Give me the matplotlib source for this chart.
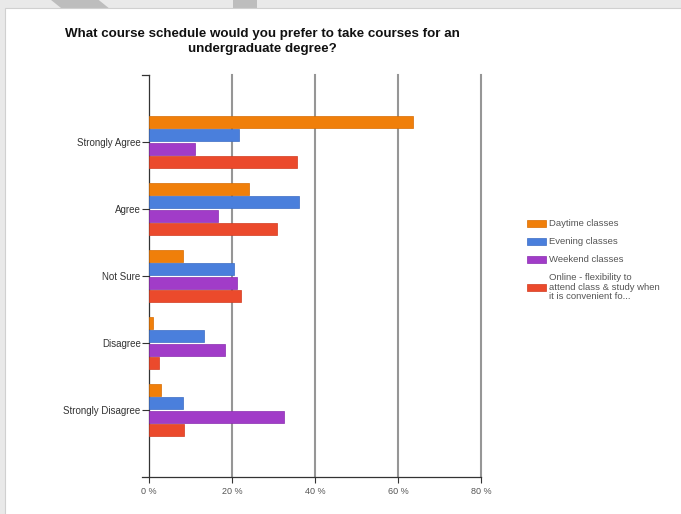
import numpy as np
import matplotlib.pyplot as plt
from matplotlib.patches import Rectangle, Polygon

# Survey responses, percent of respondents
answers = ["Strongly Agree", "Agree", "Not Sure", "Disagree", "Strongly Disagree"]
series = ["Daytime classes", "Evening classes", "Weekend classes",
          "Online - flexibility to\nattend class & study when\nit is convenient fo..."]
daytime = [63.6, 24.2, 8.1, 0.9, 3.0]
evening = [21.7, 36.2, 20.5, 13.3, 8.3]
weekend = [11.2, 16.7, 21.1, 18.2, 32.5]
online = [35.7, 30.8, 22.1, 2.4, 8.5]
xticks = [0, 20, 40, 60, 80]

colors = ["#f07f0a", "#4a7fdc", "#a13cc8", "#eb4a2c"]
edges = ["#d86c00", "#3a6cc4", "#8a2cb0", "#d23a1f"]

plt.rcParams['font.family'] = ['Liberation Sans', 'DejaVu Sans']

fig = plt.figure(figsize=(6.81, 5.14), dpi=100)

# page background: grey strip on top, white card below
fig.patches.append(Rectangle((0, 0), 1, 1, transform=fig.transFigure,
                             facecolor="#e9e9e9", edgecolor="none", zorder=-3))
fig.patches.append(Polygon([(0.075, 1), (0.145, 1), (0.16, 0.984), (0.09, 0.984)],
                           closed=True, transform=fig.transFigure,
                           facecolor="#bdbdbd", edgecolor="none", zorder=-2))
fig.patches.append(Polygon([(0.342, 1), (0.378, 1), (0.378, 0.984), (0.342, 0.984)],
                           closed=True, transform=fig.transFigure,
                           facecolor="#bdbdbd", edgecolor="none", zorder=-2))
fig.patches.append(Rectangle((0.007, -0.01), 1.0, 0.995, transform=fig.transFigure,
                             facecolor="white", edgecolor="#d0d0d0", linewidth=0.8,
                             zorder=-1))

ax = fig.add_axes([0.2188, 0.072, 0.4875, 0.782])
ax.set_facecolor("none")

y = np.arange(len(answers))
step = 0.2
height = 0.175
for i, (vals, lab) in enumerate(zip([daytime, evening, weekend, online], series)):
    ax.barh(y + (i - 1.5) * step, vals, height=height, color=colors[i],
            edgecolor=edges[i], linewidth=0.5, label=lab, zorder=3)

ax.set_xlim(0, 80)
ax.set_ylim(5, -1)
ax.set_xticks(xticks)
ax.set_xticklabels([f"{t} %" for t in xticks], fontsize=6.5, color="#555555")
ax.set_yticks(y)
ax.set_yticklabels(answers, fontsize=7, color="#333333")
ax.tick_params(axis="y", length=5, width=0.8, color="#333333", pad=1)
ax.tick_params(axis="x", length=4, width=0.8, color="#333333", pad=3)

# vertical gridlines
for t in xticks[1:]:
    ax.axvline(t, color="#969696", linewidth=1.5, zorder=1, clip_on=False)

for s in ["top", "right"]:
    ax.spines[s].set_visible(False)
ax.spines["left"].set_color("#333333")
ax.spines["left"].set_linewidth(0.9)
ax.spines["bottom"].set_color("#333333")
ax.spines["bottom"].set_linewidth(0.9)
ax.spines["bottom"].set_bounds(-1.6, 80)
ax.spines["bottom"].set_clip_on(False)
ax.spines["bottom"].set_zorder(4)
ax.plot([-1.6, 0], [-1, -1], color="#333333", linewidth=0.9, clip_on=False)

fig.text(0.385, 0.919, "What course schedule would you prefer to take courses for an\nundergraduate degree?",
         ha="center", va="center", fontsize=9.6, fontweight="bold", color="#111111",
         linespacing=1.4)

leg = ax.legend(loc="upper left", bbox_to_anchor=(1.114, 0.662), frameon=False,
                fontsize=6.8, handlelength=2.0, handleheight=0.75,
                labelspacing=0.95, handletextpad=0.25)
for txt in leg.get_texts():
    txt.set_color("#555555")
    txt.set_linespacing(1.05)

fig.savefig("out.png", dpi=100)
